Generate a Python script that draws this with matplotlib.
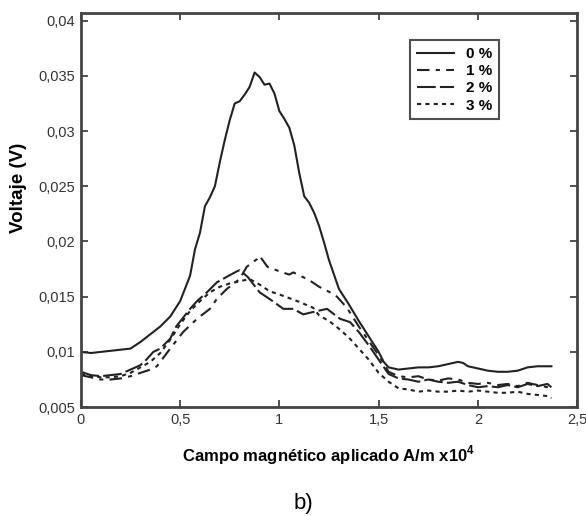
import matplotlib
matplotlib.use("Agg")
import matplotlib.pyplot as plt

# Campo magnético (x10^4 A/m) y voltaje (V) para cada porcentaje
x_0 = [0.00, 0.05, 0.10, 0.15, 0.20, 0.25, 0.30, 0.35, 0.40, 0.45, 0.50, 0.55,
       0.575, 0.60, 0.625, 0.65, 0.675, 0.70, 0.725, 0.75, 0.775, 0.80, 0.825,
       0.85, 0.875, 0.90, 0.925, 0.95, 0.975, 1.00, 1.025, 1.05, 1.075, 1.10,
       1.125, 1.15, 1.175, 1.20, 1.225, 1.25, 1.275, 1.30, 1.35, 1.40, 1.45,
       1.50, 1.525, 1.55, 1.60, 1.65, 1.70, 1.75, 1.80, 1.85, 1.90, 1.925,
       1.95, 2.00, 2.05, 2.10, 2.15, 2.20, 2.25, 2.30, 2.37]
v_0 = [0.0100, 0.0099, 0.0100, 0.0101, 0.0102, 0.0103, 0.0109, 0.0116, 0.0123,
       0.0132, 0.0146, 0.0169, 0.0193, 0.0208, 0.0232, 0.0240, 0.0250, 0.0272,
       0.0292, 0.0310, 0.0325, 0.0327, 0.0333, 0.0340, 0.0353, 0.0349, 0.0342,
       0.0343, 0.0334, 0.0318, 0.0311, 0.0303, 0.0287, 0.0262, 0.0241, 0.0235,
       0.0226, 0.0214, 0.0199, 0.0183, 0.0170, 0.0157, 0.0143, 0.0128, 0.0114,
       0.0100, 0.0091, 0.0086, 0.0084, 0.0085, 0.0086, 0.0086, 0.0087, 0.0089,
       0.0091, 0.0090, 0.0087, 0.0085, 0.0083, 0.0082, 0.0082, 0.0083, 0.0086,
       0.0087, 0.0087]

x_1 = [0.00, 0.05, 0.10, 0.15, 0.20, 0.25, 0.30, 0.35, 0.383, 0.45, 0.515,
       0.585, 0.65, 0.685, 0.735, 0.80, 0.835, 0.887, 0.90, 0.94, 1.00, 1.05,
       1.07, 1.15, 1.20, 1.255, 1.29, 1.34, 1.40, 1.45, 1.50, 1.55, 1.60, 1.65,
       1.70, 1.75, 1.80, 1.85, 1.90, 1.95, 2.00, 2.05, 2.10, 2.15, 2.20, 2.25,
       2.30, 2.35, 2.37]
v_1 = [0.0079, 0.0077, 0.0075, 0.0075, 0.0076, 0.0078, 0.0081, 0.0084, 0.0087,
       0.0103, 0.0118, 0.0130, 0.0139, 0.0148, 0.0157, 0.0166, 0.0177, 0.0184,
       0.0187, 0.0177, 0.0173, 0.0170, 0.0172, 0.0165, 0.0159, 0.0154, 0.0150,
       0.0140, 0.0123, 0.0110, 0.0097, 0.0082, 0.0078, 0.0077, 0.0078, 0.0075,
       0.0074, 0.0076, 0.0075, 0.0072, 0.0071, 0.0072, 0.0070, 0.0071, 0.0069,
       0.0072, 0.0070, 0.0068, 0.0066]

x_2 = [0.00, 0.05, 0.10, 0.15, 0.20, 0.25, 0.30, 0.33, 0.365, 0.40, 0.45, 0.48,
       0.55, 0.585, 0.635, 0.685, 0.735, 0.786, 0.80, 0.84, 0.90, 0.95, 1.02,
       1.07, 1.12, 1.19, 1.24, 1.305, 1.356, 1.40, 1.45, 1.50, 1.55, 1.60, 1.65,
       1.70, 1.75, 1.80, 1.85, 1.90, 1.95, 2.00, 2.05, 2.10, 2.15, 2.20, 2.25,
       2.30, 2.35, 2.37]
v_2 = [0.0082, 0.0079, 0.0078, 0.0079, 0.0080, 0.0084, 0.0088, 0.0093, 0.0100,
       0.0103, 0.0112, 0.0123, 0.0139, 0.0146, 0.0154, 0.0163, 0.0168, 0.0173,
       0.0174, 0.0168, 0.0154, 0.0148, 0.0139, 0.0139, 0.0134, 0.0137, 0.0139,
       0.0130, 0.0127, 0.0118, 0.0106, 0.0093, 0.0080, 0.0076, 0.0075, 0.0073,
       0.0075, 0.0073, 0.0072, 0.0073, 0.0070, 0.0068, 0.0069, 0.0068, 0.0070,
       0.0068, 0.0071, 0.0069, 0.0071, 0.0068]

x_3 = [0.00, 0.05, 0.10, 0.15, 0.20, 0.25, 0.30, 0.35, 0.40, 0.45, 0.50, 0.55,
       0.60, 0.65, 0.70, 0.75, 0.80, 0.85, 0.90, 0.95, 1.00, 1.09, 1.17, 1.20,
       1.25, 1.30, 1.35, 1.40, 1.45, 1.50, 1.55, 1.60, 1.65, 1.70, 1.75, 1.80,
       1.85, 1.90, 1.95, 2.00, 2.05, 2.10, 2.15, 2.20, 2.25, 2.30, 2.35, 2.37]
v_3 = [0.0080, 0.0078, 0.0077, 0.0077, 0.0078, 0.0081, 0.0086, 0.0091, 0.0099,
       0.0111, 0.0125, 0.0137, 0.0146, 0.0154, 0.0159, 0.0162, 0.0164, 0.0166,
       0.0161, 0.0155, 0.0152, 0.0146, 0.0140, 0.0133, 0.0128, 0.0121, 0.0113,
       0.0103, 0.0093, 0.0081, 0.0073, 0.0067, 0.0066, 0.0064, 0.0065, 0.0064,
       0.0064, 0.0065, 0.0064, 0.0065, 0.0064, 0.0063, 0.0063, 0.0064, 0.0062,
       0.0061, 0.0060, 0.0058]

labels = ["0 %", "1 %", "2 %", "3 %"]
x_ticks = [0, 0.5, 1, 1.5, 2, 2.5]
x_ticklabels = ["0", "0,5", "1", "1,5", "2", "2,5"]
y_ticks = [0.005, 0.01, 0.015, 0.02, 0.025, 0.03, 0.035, 0.04]
y_ticklabels = ["0,005", "0,01", "0,015", "0,02", "0,025", "0,03", "0,035", "0,04"]

plt.rcParams['font.family'] = ['Liberation Sans', 'DejaVu Sans']
plt.rcParams['mathtext.fontset'] = 'custom'
plt.rcParams['mathtext.bf'] = 'Liberation Sans:bold'
plt.rcParams['mathtext.rm'] = 'Liberation Sans'

fig = plt.figure(figsize=(5.86, 5.16), dpi=100)
ax = fig.add_axes([0.138, 0.211, 0.847, 0.764])

ink = '#222222'
ax.plot(x_0, v_0, color=ink, lw=1.5, ls='-', label=labels[0])
ax.plot(x_1, v_1, color=ink, lw=1.5, ls=(0, (6, 3, 2, 3)), label=labels[1])
ax.plot(x_2, v_2, color=ink, lw=1.5, ls=(0, (9, 2)), label=labels[2])
ax.plot(x_3, v_3, color=ink, lw=1.5, ls=(0, (2, 2)), label=labels[3])

ax.set_xlim(0, 2.5)
ax.set_ylim(0.005, 0.0407)
ax.set_xticks(x_ticks)
ax.set_xticklabels(x_ticklabels)
ax.set_yticks(y_ticks)
ax.set_yticklabels(y_ticklabels)
ax.tick_params(direction='in', top=True, right=True, length=5, width=1.2,
               labelsize=10.5, colors='#333333', pad=4)

for sp in ax.spines.values():
    sp.set_linewidth(2)
    sp.set_color('#444444')

ax.set_xlabel(r'Campo magnético aplicado A/m x10$^{\mathbf{4}}$',
              fontsize=12, fontweight='bold', labelpad=12)
ax.set_ylabel('Voltaje (V)', fontsize=13.5, fontweight='bold')
ax.yaxis.set_label_coords(-0.108, 0.556)

leg = ax.legend(loc='upper left', bbox_to_anchor=(0.664, 0.93),
                frameon=True, fancybox=False, handlelength=2.4,
                labelspacing=0.2, borderpad=0.45, handletextpad=0.8,
                borderaxespad=0, prop={'weight': 'bold', 'size': 11})
leg.get_frame().set_edgecolor('#222222')
leg.get_frame().set_linewidth(1.5)

fig.text(0.517, 0.025, 'b)', fontsize=16, ha='center', va='center')

fig.savefig('out.png', dpi=100)
